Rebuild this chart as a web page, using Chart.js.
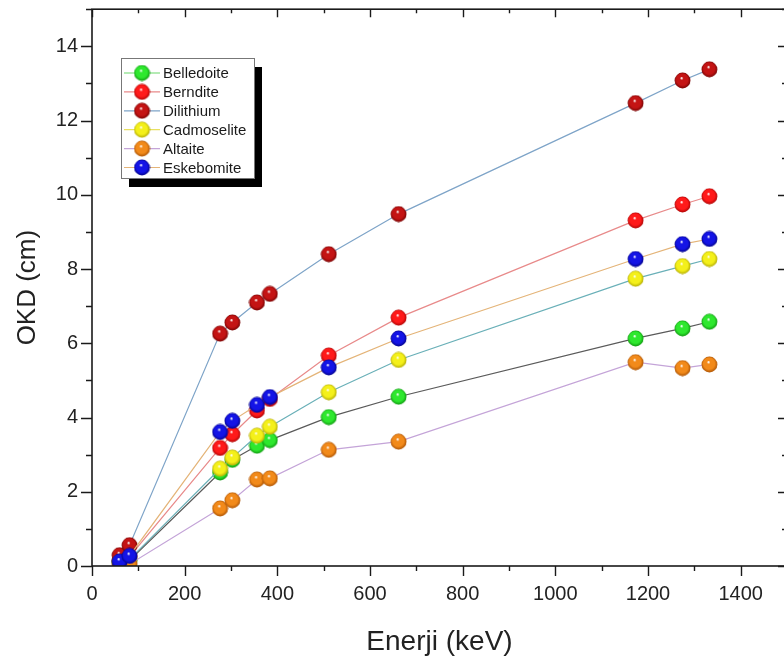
<!DOCTYPE html>
<html>
<head>
<meta charset="utf-8">
<script src="https://cdn.jsdelivr.net/npm/chart.js@4/dist/chart.umd.min.js"></script>
<style>
  html, body { margin: 0; padding: 0; background: #fff; overflow: hidden; }
  #wrap { width: 800px; height: 659px; }
</style>
</head>
<body>
<div id="wrap"><canvas id="chart" width="800" height="659"></canvas></div>
<script>
// energies (keV) and OKD values (cm)
const energies = [59.5, 81, 276.4, 302.9, 356, 383.8, 511, 661.7, 1173.2, 1274.5, 1332.5];
const belledoite  = [0.10, 0.15, 2.52, 2.86, 3.24, 3.39, 4.01, 4.56, 6.13, 6.40, 6.58];
const berndite    = [0.15, 0.25, 3.18, 3.55, 4.19, 4.50, 5.67, 6.69, 9.31, 9.74, 9.96];
const dilithium   = [0.29, 0.56, 6.26, 6.56, 7.10, 7.33, 8.40, 9.48, 12.47, 13.08, 13.38];
const cadmoselite = [0.10, 0.18, 2.62, 2.92, 3.51, 3.75, 4.68, 5.55, 7.74, 8.08, 8.27];
const altaite     = [0.04, 0.05, 1.55, 1.77, 2.33, 2.36, 3.13, 3.35, 5.49, 5.33, 5.43];
const eskebomite  = [0.12, 0.27, 3.61, 3.91, 4.34, 4.55, 5.35, 6.13, 8.27, 8.67, 8.81];

const seriesNames = ['Belledoite', 'Berndite', 'Dilithium', 'Cadmoselite', 'Altaite', 'Eskebomite'];
const seriesValues = [belledoite, berndite, dilithium, cadmoselite, altaite, eskebomite];

const xTicks = [0, 200, 400, 600, 800, 1000, 1200, 1400];
const yTicks = [0, 2, 4, 6, 8, 10, 12, 14];

// marker colour, dark rim, connecting line colour, legend line colour
const markerColors = ['#2ee82e', '#ff1a1a', '#c41414', '#f4f01a', '#f28a1a', '#1414e6'];
const rimColors    = ['#0a8a0a', '#a00000', '#6a0000', '#a8a000', '#a04a00', '#00007a'];
const lineColors   = ['#5a5a5a', '#e88a8a', '#7ea4c8', '#6ab0b8', '#c4a4d8', '#e4b478'];
const legendLines  = ['#6ad86a', '#e88a8a', '#7ea4c8', '#e8e060', '#c4a4d8', '#e4b478'];

const FONT = "'Liberation Sans', Arial, sans-serif";

function sphere(color, rim) {
  const s = 17;
  const c = document.createElement('canvas');
  c.width = s; c.height = s;
  const g = c.getContext('2d');
  const grad = g.createRadialGradient(7.5, 6, 0.3, 8.5, 8.5, 8.5);
  grad.addColorStop(0, '#ffffff');
  grad.addColorStop(0.18, color);
  grad.addColorStop(0.65, color);
  grad.addColorStop(1, rim);
  g.fillStyle = grad;
  g.beginPath();
  g.arc(8.5, 8.5, 7.9, 0, Math.PI * 2);
  g.fill();
  return c;
}
const markers = markerColors.map((c, i) => sphere(c, rimColors[i]));

const datasets = seriesNames.map((name, i) => ({
  label: name,
  data: energies.map((e, j) => ({ x: e, y: seriesValues[i][j] })),
  borderColor: lineColors[i],
  borderWidth: 1.2,
  pointStyle: markers[i],
  pointRadius: 8,
  order: seriesNames.length - i,
  tension: 0,
  fill: false
}));

// axis frame, inside/outside ticks and boxed legend
const framePlugin = {
  id: 'framePlugin',
  afterDraw(chart) {
    const { ctx, chartArea: a, scales: { x, y } } = chart;
    ctx.save();
    ctx.strokeStyle = '#1a1a1a';
    ctx.lineWidth = 1.6;
    ctx.strokeRect(a.left, a.top, a.right - a.left, a.bottom - a.top);
    ctx.lineWidth = 1.4;
    ctx.beginPath();
    for (let v = 0; v <= 1500; v += 100) {
      const px = Math.round(x.getPixelForValue(v)) + 0.5;
      const major = v % 200 === 0;
      ctx.moveTo(px, a.bottom); ctx.lineTo(px, a.bottom + (major ? 10 : 5));
      ctx.moveTo(px, a.top); ctx.lineTo(px, a.top + (major ? 8 : 4));
    }
    for (let v = 0; v <= 15; v += 1) {
      const py = Math.round(y.getPixelForValue(v)) + 0.5;
      const major = v % 2 === 0;
      ctx.moveTo(a.left, py); ctx.lineTo(a.left - (major ? 11 : 6), py);
      ctx.moveTo(a.right, py); ctx.lineTo(a.right - (major ? 9 : 5), py);
    }
    ctx.stroke();

    // legend
    const lx = 121, ly = 58, lw = 133, lh = 120;
    ctx.fillStyle = '#000';
    ctx.fillRect(lx + 8, ly + 9, lw, lh);
    ctx.fillStyle = '#fff';
    ctx.fillRect(lx, ly, lw, lh);
    ctx.strokeStyle = '#777';
    ctx.lineWidth = 1;
    ctx.strokeRect(lx + 0.5, ly + 0.5, lw, lh);
    ctx.font = '15px ' + FONT;
    ctx.textBaseline = 'middle';
    seriesNames.forEach((name, i) => {
      const cy = 73 + i * 18.9;
      ctx.strokeStyle = legendLines[i];
      ctx.lineWidth = 1.2;
      ctx.beginPath();
      ctx.moveTo(124, cy); ctx.lineTo(160, cy);
      ctx.stroke();
      ctx.drawImage(markers[i], 142 - 8.5, cy - 8.5);
      ctx.fillStyle = '#1a1a1a';
      ctx.fillText(name, 163, cy + 1);
    });
    ctx.restore();
  }
};

new Chart(document.getElementById('chart'), {
  type: 'line',
  data: { datasets },
  plugins: [framePlugin],
  options: {
    responsive: false,
    animation: false,
    devicePixelRatio: 1,
    layout: { padding: { top: 5, right: 13, left: 0, bottom: 0 } },
    plugins: { legend: { display: false }, tooltip: { enabled: false } },
    scales: {
      x: {
        type: 'linear', min: 0, max: 1500,
        afterFit: s => { s.height = 93; s.paddingLeft = 0; s.paddingRight = 0; },
        grid: { display: false, drawTicks: false },
        border: { display: false },
        ticks: {
          stepSize: 100, autoSkip: false, maxRotation: 0, padding: 16,
          color: '#222', font: { family: FONT, size: 20 },
          callback: v => xTicks.includes(v) ? String(v) : ''
        },
        title: {
          display: true, text: 'Enerji (keV)', color: '#222',
          font: { family: FONT, size: 28 }, padding: { top: 1, bottom: 0 }
        }
      },
      y: {
        type: 'linear', min: 0, max: 15,
        afterFit: s => { s.width = 92; s.paddingTop = 0; s.paddingBottom = 0; },
        grid: { display: false, drawTicks: false },
        border: { display: false },
        ticks: {
          stepSize: 1, autoSkip: false, padding: 14,
          color: '#222', font: { family: FONT, size: 20 },
          callback: v => yTicks.includes(v) ? String(v) : ''
        },
        title: {
          display: true, text: 'OKD (cm)', color: '#222',
          font: { family: FONT, size: 26 }, padding: { top: 12, bottom: 0 }
        }
      }
    }
  }
});
</script>
</body>
</html>
